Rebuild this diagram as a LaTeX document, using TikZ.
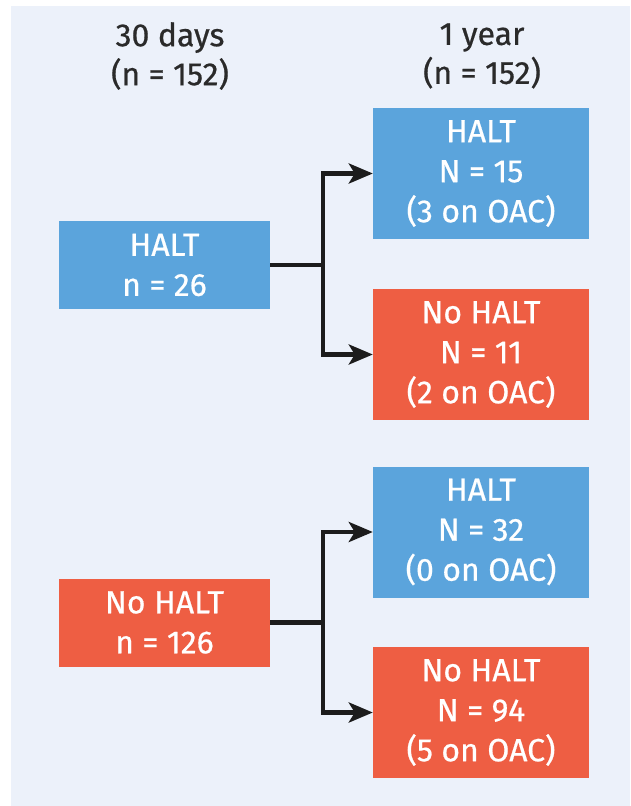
\documentclass[tikz,border=0pt]{standalone}
\usepackage{fontspec}
\setmainfont{Fira Sans}[FakeBold=0.6]
\usetikzlibrary{arrows.meta}
\definecolor{panel}{HTML}{ECF1FA}
\definecolor{haltblue}{HTML}{5BA4DC}
\definecolor{nohaltred}{HTML}{EE5E43}
\definecolor{inkdark}{HTML}{1C1C1C}
\definecolor{headtext}{HTML}{2A2A2A}
\begin{document}
\begin{tikzpicture}[x=1pt,y=-1pt,
  boxtext/.style={text=white,align=center,inner sep=0pt,
    font=\fontsize{32}{40}\selectfont},
  leftbox/.style={boxtext,minimum width=211pt,minimum height=88pt},
  rightbox/.style={boxtext,minimum width=216pt,minimum height=131pt},
  haltfill/.style={fill=haltblue},
  nohaltfill/.style={fill=nohaltred},
  header/.style={text=headtext,align=center,inner sep=0pt,
    font=\fontsize{32}{39}\selectfont},
  link/.style={draw=inkdark,line width=4.5pt},
  arrowlink/.style={link,-{Stealth[length=24pt,width=20pt,inset=6pt]}}]
\useasboundingbox (0,0) rectangle (630,806);
\fill[white] (0,0) rectangle (630,806);
\fill[panel] (11,6) rectangle (630,806);
% headers
\node[header] (h30) at (170,56) {30 days\\(n = 152)};
\node[header] (h1y) at (482,56) {1 year\\(n = 152)};
% left boxes
\node[leftbox,haltfill] (lhalt) at (164.5,265) {HALT\\n = 26};
\node[leftbox,nohaltfill] (lno) at (164.5,622.5) {No HALT\\n = 126};
% right boxes
\node[rightbox,haltfill] (r1) at (481,173.5) {HALT\\N = 15\\(3 on OAC)};
\node[rightbox,nohaltfill] (r2) at (481,354.5) {No HALT\\N = 11\\(2 on OAC)};
\node[rightbox,haltfill] (r3) at (481,532) {HALT\\N = 32\\(0 on OAC)};
\node[rightbox,nohaltfill] (r4) at (481,712.5) {No HALT\\N = 94\\(5 on OAC)};
% junctions
\coordinate (j1) at (323,265);
\coordinate (j2) at (323,622.5);
\draw[link] (lhalt.east) -- (j1);
\draw[arrowlink] (j1) |- (r1.west);
\draw[arrowlink] (j1) |- (r2.west);
\draw[link] (lno.east) -- (j2);
\draw[arrowlink] (j2) |- (r3.west);
\draw[arrowlink] (j2) |- (r4.west);
\end{tikzpicture}
\end{document}
